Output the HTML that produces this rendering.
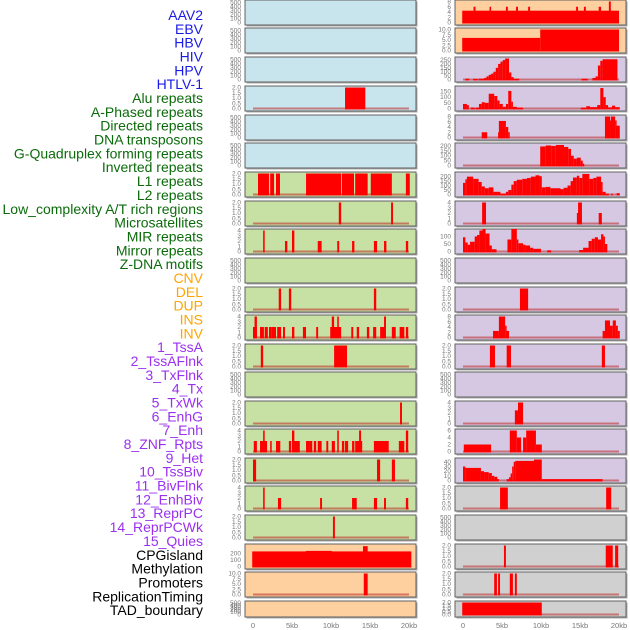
<!DOCTYPE html>
<html><head><meta charset="utf-8"><style>
html,body{margin:0;padding:0;background:#fff;width:630px;height:630px;overflow:hidden}
svg{display:block;font-family:"Liberation Sans",sans-serif}
</style></head><body>
<svg id="c" width="630" height="630" viewBox="0 0 630 630"></svg>
<script>
const labels=["AAV2","EBV","HBV","HIV","HPV","HTLV-1","Alu repeats","A-Phased repeats","Directed repeats","DNA transposons","G-Quadruplex forming repeats","Inverted repeats","L1 repeats","L2 repeats","Low_complexity A/T rich regions","Microsatellites","MIR repeats","Mirror repeats","Z-DNA motifs","CNV","DEL","DUP","INS","INV","1_TssA","2_TssAFlnk","3_TxFlnk","4_Tx","5_TxWk","6_EnhG","7_Enh","8_ZNF_Rpts","9_Het","10_TssBiv","11_BivFlnk","12_EnhBiv","13_ReprPC","14_ReprPCWk","15_Quies","CPGisland","Methylation","Promoters","ReplicationTiming","TAD_boundary"];
const labelGroups=[6,13,5,15,5];
const groupColors=["#1a1ae6","#0b6b0b","#ffa500","#9b30ee","#000"];
const rowTops=[0,28,57,86,115,143,172,201,229,258,287,315,344,372,401,429,458,486,515,544,572,601];
const xTicks=[0,5,10,15,20];
const xTickLabels=["0","5kb","10kb","15kb","20kb"];
const E=null;
const leftColors=["b","b","b","b","b","b","g","g","g","g","g","g","g","g","g","g","g","g","g","o","o","o"];
const rightColors=["o","o","p","p","p","p","p","p","p","p","p","p","p","p","p","p","p","y","y","y","y","y"];
const leftYmax=[520,520,520,2,520,520,2,2,4,520,2,4,2,520,2,4,2,4,2,320,10,520];
const rightYmax=[8,10,270,185,8,215,235,4,140,520,2,8,2,520,4,6,45,2,520,2,2,2];
const leftSegs=[E,E,E,
[[11.8,14.4,2]],E,E,
[[0.64,2.05,2],[2.2,2.7,2],[2.95,3.46,2],[6.8,11.3,2],[11.4,12.95,2],[13.1,14.7,2],[15.1,17.8,2],[19.6,20.1,2]],
[[11.0,11.3,2],[17.7,17.95,2]],
[[1.3,1.5,4],[4.1,4.4,2],[5.0,5.3,4],[8.3,8.8,2],[10.8,11.05,2],[12.7,13.0,2],[15.5,15.9,2],[16.8,17.1,2],[19.6,19.9,2]],
E,
[[3.3,3.6,2],[4.6,4.9,2],[15.5,15.8,2]],
[[0,0.5,2],[0.2,0.5,4],[0.9,1.4,2],[1.5,1.9,2],[2.05,2.4,2],[2.4,2.95,2],[3.1,3.6,2],[3.85,4.1,2],[5.0,5.3,2],[6.4,6.8,2],[8.1,8.35,2],[9.9,11.3,2],[10.1,10.4,4],[10.8,11.0,4],[12.6,12.85,2],[13.3,13.6,2],[14.6,14.9,2],[15.4,15.8,2],[16.3,16.9,2],[16.8,17.05,4],[17.8,18.3,2],[18.8,19.4,2],[19.6,19.9,2]],
[[1.0,1.3,2],[10.4,12.05,2]],
E,
[[18.85,19.1,2]],
[[0.1,0.5,2],[0.9,1.8,2],[1.3,1.5,4],[2.2,2.4,2],[2.95,3.5,2],[4.6,4.9,2],[5.0,5.3,4],[5.0,6.0,2],[6.8,7.3,2],[7.3,7.6,2],[7.8,8.1,2],[8.3,8.8,2],[9.4,9.65,2],[10.1,10.5,2],[10.8,11.0,4],[11.4,11.7,2],[11.8,12.2,2],[12.7,13.0,2],[13.1,14.0,2],[13.6,13.85,4],[15.5,17.4,2],[18.7,19.4,2],[19.6,19.9,4]],
[[0,0.4,2],[15.9,16.3,2],[17.8,18.2,2]],
[[1.3,1.5,4],[3.2,3.6,2],[8.6,8.85,2],[12.7,13.3,2],[15.5,15.9,2],[16.8,17.05,2],[19.6,19.9,2]],
[[10.25,10.5,2]],
[[-0.1,20.3,230],[6.8,10.1,238],[14.1,14.7,310]],
[[14.2,14.7,10]],
E];
const rightSegs=[
[[-0.1,20.0,4.5],[1.35,1.6,6],[3.4,3.6,6],[5.5,5.75,6],[6.8,7.05,6],[8.35,8.6,6],[14.5,14.75,6],[15.5,15.75,6],[17.4,17.7,6],[18.7,18.95,8]],
[[-0.1,9.9,6],[9.9,20.0,10]],
[[0.3,0.8,10],[1.3,1.9,8],[2.0,2.7,10],[2.7,3.0,20],[3.0,3.3,40],[3.3,3.6,60],[3.6,3.9,75],[3.9,4.2,100],[4.2,4.5,150],[4.5,4.8,200],[4.8,5.1,230],[5.1,5.4,250],[5.4,5.9,270],[5.9,6.2,90],[6.2,6.5,30],[6.5,7.2,10],[15.2,16.0,10],[16.6,17.0,20],[17.0,17.3,40],[17.3,17.6,180],[17.6,17.9,240],[17.9,19.8,260]],
[[0,0.5,40],[0.5,0.75,30],[1.0,1.5,8],[1.6,2.05,8],[2.05,2.4,40],[2.4,2.8,55],[2.8,3.3,50],[3.3,4.0,130],[4.0,4.4,110],[4.4,4.7,70],[4.7,5.1,40],[5.1,5.5,15],[5.5,5.8,40],[5.8,6.2,155],[6.2,6.4,60],[6.4,6.9,15],[6.9,7.7,8],[15.1,15.8,8],[15.8,16.3,20],[16.3,17.2,12],[17.2,17.6,30],[17.6,18.0,180],[18.0,18.3,100],[18.3,18.6,30],[18.6,19.1,10],[19.1,19.5,25],[19.5,20.1,12]],
[[2.4,3.1,2],[4.5,4.75,2],[4.6,5.5,6.3],[5.5,5.8,4],[5.8,5.9,2],[18.2,18.85,8],[18.85,18.95,6.5],[18.95,19.5,8],[19.5,19.6,6.5],[19.6,20.1,4.5]],
[[9.9,10.6,195],[10.6,11.3,205],[11.3,11.9,200],[11.9,12.95,210],[12.95,13.5,190],[13.5,13.85,170],[13.85,14.2,100],[14.2,14.6,70],[14.6,15.1,80],[15.1,15.35,50],[15.35,15.5,20]],
[[0,0.3,130],[0.3,0.5,170],[0.5,1.3,200],[1.3,2.0,175],[2.0,2.4,140],[2.4,2.8,90],[2.8,3.3,70],[3.3,3.9,80],[3.9,4.8,30],[4.8,5.5,10],[5.5,5.8,30],[5.8,6.2,50],[6.2,6.5,110],[6.5,6.9,150],[6.9,7.6,165],[7.6,8.2,175],[8.2,8.7,185],[8.7,9.3,200],[9.3,9.8,215],[9.8,10.1,205],[10.1,10.6,80],[10.6,11.2,85],[11.2,12.5,70],[12.5,12.9,60],[12.9,13.4,75],[13.4,13.8,100],[13.8,14.1,150],[14.1,14.6,190],[14.6,14.9,210],[14.9,15.3,185],[15.3,16.2,230],[16.2,16.7,175],[16.7,17.1,185],[17.1,17.7,200],[17.7,17.9,140],[17.9,18.3,30],[18.3,18.7,10],[19.0,19.2,10],[19.7,20.1,15]],
[[2.45,2.95,4],[14.6,14.9,2],[14.75,15.25,4],[17.4,17.8,2]],
[[0,0.3,95],[0.3,0.6,60],[0.6,0.9,45],[0.9,1.5,65],[1.5,1.8,100],[1.8,2.1,110],[2.1,2.5,140],[2.5,2.9,150],[2.9,3.4,120],[3.4,3.7,40],[3.7,4.3,15],[5.7,6.2,80],[6.2,6.9,150],[6.9,7.1,80],[7.1,7.7,55],[7.7,8.0,45],[8.0,8.6,40],[8.6,9.0,25],[9.0,10.0,18],[10.8,11.3,8],[14.9,15.4,10],[15.4,16.1,25],[16.1,16.5,70],[16.5,16.9,85],[16.9,17.3,95],[17.3,17.7,80],[17.7,18.0,115],[18.0,18.2,100],[18.2,18.5,50]],
E,
[[7.3,8.35,2]],
[[3.85,4.6,2.5],[4.6,5.4,8],[5.4,5.55,4.5],[5.55,5.9,2.5],[17.9,18.2,2.5],[18.2,18.85,6.5],[18.85,19.2,4.5],[19.2,19.6,6.5],[19.6,19.85,4.5],[19.85,20.1,2.5]],
[[3.45,4.1,2],[5.6,6.15,2],[17.8,18.2,2]],
E,
[[6.65,7.05,2.5],[7.05,7.7,4]],
[[0.1,3.6,2],[6.0,6.9,6],[6.9,7.45,4],[7.7,8.1,4],[8.1,9.35,6],[9.35,10.1,2]],
[[0,0.3,30],[0.3,2.3,27],[2.3,2.7,20],[2.7,3.3,18],[3.3,3.7,16],[3.7,4.0,10],[4.0,4.4,8],[4.4,4.6,3],[5.6,5.9,3],[5.9,6.1,7],[6.1,6.3,15],[6.3,6.5,30],[6.5,6.7,40],[6.7,9.1,42],[9.1,10.1,45],[10.1,17.9,3]],
[[4.75,5.75,2],[18.35,19.0,2]],
E,
[[5.25,5.5,2],[18.3,19.2,2],[19.5,19.9,2]],
[[4.0,4.35,2],[4.5,4.75,2],[6.0,6.4,2],[6.65,6.9,2]],
[[-0.1,10.1,2]]];
const tickSets={520:[0,100,200,300,400,500],2:[0,0.5,1,1.5,2],4:[0,1,2,3,4],8:[0,2,4,6,8],10:[0,2.5,5,7.5,10],320:[0,100,200],270:[0,50,100,150,200,250],185:[0,50,100,150],215:[0,50,100,150,200],235:[0,50,100,150,200],140:[0,50,100],6:[0,2,4,6],45:[0,10,20,30,40]};
const fills={b:"#c8e4ec",g:"#c7e0a3",o:"#fed0a0",p:"#d6c7e2",y:"#d0d0d0"};
const NS="http://www.w3.org/2000/svg";
const svg=document.getElementById('c');
function mk(tag,attrs,parent){const e=document.createElementNS(NS,tag);for(const k in attrs)e.setAttribute(k,attrs[k]);(parent||svg).appendChild(e);return e;}
function fmt(v,ymax){if(ymax<=10&&ymax!==4&&ymax!==8&&ymax!==6)return v.toFixed(1);return String(v);}
let li=0;
labelGroups.forEach((n,g)=>{for(let i=0;i<n;i++){const t=mk('text',{x:203,y:20+li*13.84,'text-anchor':'end','font-size':14,fill:groupColors[g]});t.textContent=labels[li];


li++;}});
function panel(col,r,ymax,segs,color){
  const px0=col===0?245:455, pw=171, top=rowTops[r], h=r===21?16:25;
  const x0=px0+8, xs=kb=>x0+kb*7.8;
  const ybot=top+h-2.5, ytop=top+1.5, ys=v=>ybot-(v/ymax)*(ybot-ytop);
  const g=mk('g',{});
  
  
  mk('rect',{x:px0+1.5,y:top+1.5,width:pw,height:h,fill:'#aaa'},g);
  mk('rect',{x:px0,y:top,width:pw,height:h,fill:fills[color],stroke:'#606060','stroke-width':1},g);
  (tickSets[ymax]||[0,ymax]).forEach(v=>{const t=mk('text',{x:px0-4,y:ys(v)+2,'text-anchor':'end','font-size':6.5,fill:'#777'},g);t.textContent=fmt(v,ymax);
    
    });
  if(segs){
    mk('rect',{x:xs(0),y:ybot-1,width:xs(20)-xs(0),height:2,fill:'rgba(190,40,40,0.55)'},g);
    segs.forEach(s=>{const b=mk('rect',{x:xs(s[0]),y:ys(s[2]),width:Math.max(1.5,xs(s[1])-xs(s[0])),height:ybot-ys(s[2])+1,fill:'#ff0000'},g);
      
      });
  }
}
for(let r=0;r<22;r++){panel(0,r,leftYmax[r],leftSegs[r],leftColors[r]);panel(1,r,rightYmax[r],rightSegs[r],rightColors[r]);}
[253,463].forEach(x0=>{xTicks.forEach((k,i)=>{const t=mk('text',{x:x0+k*7.8,y:628,'text-anchor':'middle','font-size':7.5,fill:'#777'});t.textContent=xTickLabels[i];

});});
</script>
</body></html>
